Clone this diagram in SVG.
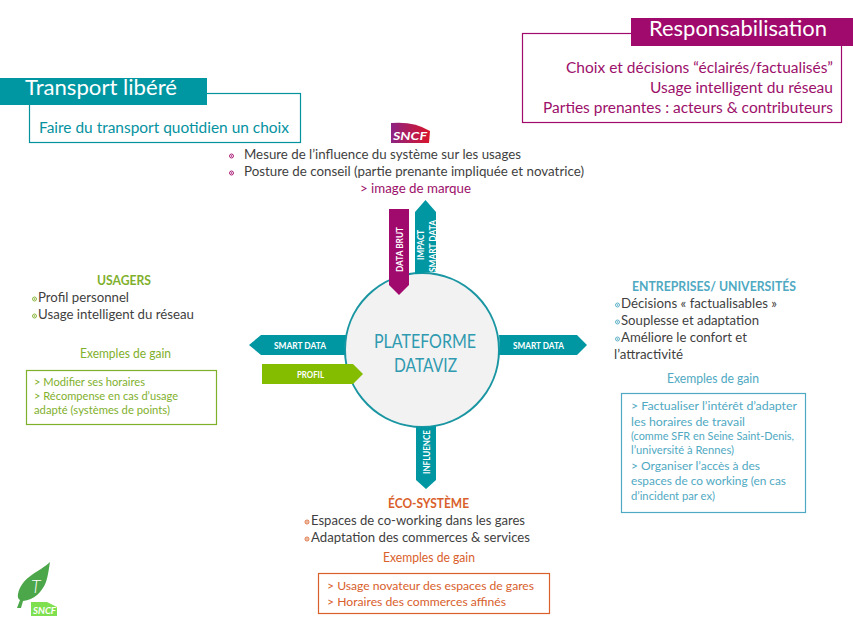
<svg xmlns="http://www.w3.org/2000/svg" width="853" height="628" viewBox="0 0 853 628">
<style>
text{font-family:"Lato","Open Sans","Liberation Sans",sans-serif}
.dark{fill:#3f3f3f;font-size:14px}
.teal{fill:#05929f}
.mag{fill:#9c0f6a}
.grn{fill:#7fb02c}
.blu{fill:#4fa9c2}
.org{fill:#d9602b}
.box{fill:#fff;stroke-width:1.2}
.tag{fill:#fff;font-size:9.500px;font-weight:700}
.ex{font-size:12px}
.sm{font-size:11.500px}
.gain{font-size:12.500px}
.head{font-size:13.500px;font-weight:700}
.side{font-size:15.500px}
</style>
<defs>
<g id="bullet"><circle r="2" fill="none" stroke="currentColor" stroke-width="0.9"/><circle r="0.8" fill="currentColor"/></g>
<linearGradient id="sncfFill" x1="0" x2="1" y1="0" y2="0"><stop offset="0" stop-color="#8d2382"/><stop offset="1" stop-color="#d8142a"/></linearGradient>
</defs>
<rect width="853" height="628" fill="#fff"/>

<g id="responsabilisation">
<rect class="box" x="522.500" y="33.500" width="319" height="89" stroke="#a00a6c"/>
<rect x="631" y="18" width="222" height="28" fill="#a00a6c"/>
<text x="649" y="36" fill="#fff" font-size="21.500" textLength="178" lengthAdjust="spacingAndGlyphs">Responsabilisation</text>
<text class="mag side" x="566" y="73" textLength="267" lengthAdjust="spacingAndGlyphs">Choix et décisions “éclairés/factualisés”</text>
<text class="mag side" x="650" y="93" textLength="183" lengthAdjust="spacingAndGlyphs">Usage intelligent du réseau</text>
<text class="mag side" x="543" y="113" textLength="290" lengthAdjust="spacingAndGlyphs">Parties prenantes : acteurs &amp; contributeurs</text>
</g>

<g id="transport">
<rect class="box" x="29.500" y="93.500" width="271" height="49" stroke="#05929f"/>
<rect x="0" y="78" width="207" height="27" fill="#0097a3"/>
<text x="25" y="95" fill="#fff" font-size="22" textLength="152" lengthAdjust="spacingAndGlyphs">Transport libéré</text>
<text class="teal side" x="39" y="133" textLength="250" lengthAdjust="spacingAndGlyphs">Faire du transport quotidien un choix</text>
</g>

<g id="sncf">
<path d="M391 123Q414 121 430 131L429 143H391Z" fill="url(#sncfFill)"/>
<text x="393" y="140" fill="#fff" font-size="12" font-weight="700" font-style="italic" textLength="34" lengthAdjust="spacingAndGlyphs">SNCF</text>
</g>
<g id="sncf-points" color="#a00a6c">
<use href="#bullet" x="231.500" y="156"/>
<use href="#bullet" x="231.500" y="173"/>
<text class="dark" x="244" y="159" textLength="277" lengthAdjust="spacingAndGlyphs">Mesure de l’influence du système sur les usages</text>
<text class="dark" x="244" y="176" textLength="340" lengthAdjust="spacingAndGlyphs">Posture de conseil (partie prenante impliquée et novatrice)</text>
<text class="mag" x="360" y="193" font-size="14" textLength="111" lengthAdjust="spacingAndGlyphs">&gt; image de marque</text>
</g>

<g id="plateforme">
<circle cx="422" cy="350" r="77" fill="#f2f2f2" stroke="#1a96a3" stroke-width="2"/>
<text x="374" y="348" fill="#2f9ab0" font-size="18.500" textLength="102" lengthAdjust="spacingAndGlyphs">PLATEFORME</text>
<text x="394" y="372" fill="#2f9ab0" font-size="18.500" textLength="63" lengthAdjust="spacingAndGlyphs">DATAVIZ</text>
</g>

<g id="connectors">
<path d="M415 274V212L425.500 200L436 212V272Q426 272 415 274Z" fill="#0097a3"/>
<path d="M389 209H409V285L399 295L389 285Z" fill="#a00a6c"/>
<path d="M346 335H261L249 345L261 355H345Q344 345 346 335Z" fill="#0097a3"/>
<path d="M499 335H577L587 345L577 355H499Q500 345 499 335Z" fill="#0097a3"/>
<path d="M262 364H353L363 374L353 384H262Z" fill="#84bc00"/>
<path d="M416 427Q426 428 436 426V480L426 489L416 480Z" fill="#0097a3"/>
<text class="tag" transform="translate(403 272) rotate(-90)" textLength="45" lengthAdjust="spacingAndGlyphs">DATA BRUT</text>
<text class="tag" transform="translate(424 260) rotate(-90)" textLength="30" lengthAdjust="spacingAndGlyphs">IMPACT</text>
<text class="tag" transform="translate(436 272) rotate(-90)" textLength="52" lengthAdjust="spacingAndGlyphs">SMART DATA</text>
<text class="tag" x="274" y="349" textLength="52" lengthAdjust="spacingAndGlyphs">SMART DATA</text>
<text class="tag" x="513" y="349" textLength="51" lengthAdjust="spacingAndGlyphs">SMART DATA</text>
<text class="tag" x="297" y="377.500" textLength="27" lengthAdjust="spacingAndGlyphs">PROFIL</text>
<text class="tag" transform="translate(430 474) rotate(-90)" textLength="44" lengthAdjust="spacingAndGlyphs">INFLUENCE</text>
</g>

<g id="usagers" color="#7fb02c">
<text class="grn head" x="97" y="285" textLength="54" lengthAdjust="spacingAndGlyphs">USAGERS</text>
<use href="#bullet" x="34.500" y="299"/>
<use href="#bullet" x="34.500" y="316"/>
<text class="dark" x="38" y="302" textLength="91" lengthAdjust="spacingAndGlyphs">Profil personnel</text>
<text class="dark" x="38" y="319" textLength="156" lengthAdjust="spacingAndGlyphs">Usage intelligent du réseau</text>
<text class="grn gain" x="80" y="358" textLength="91" lengthAdjust="spacingAndGlyphs">Exemples de gain</text>
<rect class="box" x="26.500" y="370.500" width="190" height="54" stroke="#7fb02c"/>
<text class="grn ex" x="34" y="386" textLength="111" lengthAdjust="spacingAndGlyphs">&gt; Modifier ses horaires</text>
<text class="grn ex" x="34" y="400" textLength="144" lengthAdjust="spacingAndGlyphs">&gt; Récompense en cas d’usage</text>
<text class="grn ex" x="34" y="414" textLength="136" lengthAdjust="spacingAndGlyphs">adapté (systèmes de points)</text>
</g>

<g id="entreprises" color="#4fa9c2">
<text class="blu head" x="632" y="291" textLength="164" lengthAdjust="spacingAndGlyphs">ENTREPRISES/ UNIVERSITÉS</text>
<use href="#bullet" x="617.500" y="305"/>
<use href="#bullet" x="617.500" y="322"/>
<use href="#bullet" x="617.500" y="339"/>
<text class="dark" x="621" y="308" textLength="156" lengthAdjust="spacingAndGlyphs">Décisions « factualisables »</text>
<text class="dark" x="621" y="325" textLength="138" lengthAdjust="spacingAndGlyphs">Souplesse et adaptation</text>
<text class="dark" x="621" y="342" textLength="126" lengthAdjust="spacingAndGlyphs">Améliore le confort et</text>
<text class="dark" x="614" y="359" textLength="69" lengthAdjust="spacingAndGlyphs">l’attractivité</text>
<text class="blu gain" x="667" y="383" textLength="92" lengthAdjust="spacingAndGlyphs">Exemples de gain</text>
<rect class="box" x="621.500" y="393.500" width="184" height="119" stroke="#4fa9c2"/>
<text class="blu ex" x="631" y="410" textLength="166" lengthAdjust="spacingAndGlyphs">&gt; Factualiser l’intérêt d’adapter</text>
<text class="blu ex" x="631" y="426" textLength="114" lengthAdjust="spacingAndGlyphs">les horaires de travail</text>
<text class="blu sm" x="631" y="440" textLength="163" lengthAdjust="spacingAndGlyphs">(comme SFR en Seine Saint-Denis,</text>
<text class="blu sm" x="631" y="454" textLength="103" lengthAdjust="spacingAndGlyphs">l’université à Rennes)</text>
<text class="blu ex" x="631" y="470" textLength="129" lengthAdjust="spacingAndGlyphs">&gt; Organiser l’accès à des</text>
<text class="blu ex" x="631" y="485" textLength="155" lengthAdjust="spacingAndGlyphs">espaces de co working (en cas</text>
<text class="blu sm" x="631" y="500" textLength="84" lengthAdjust="spacingAndGlyphs">d’incident par ex)</text>
</g>

<g id="ecosysteme" color="#d9602b">
<text class="org head" x="388" y="508" textLength="81" lengthAdjust="spacingAndGlyphs">ÉCO-SYSTÈME</text>
<use href="#bullet" x="307" y="522"/>
<use href="#bullet" x="307" y="539"/>
<text class="dark" x="311" y="525" textLength="214" lengthAdjust="spacingAndGlyphs">Espaces de co-working dans les gares</text>
<text class="dark" x="311" y="542" textLength="219" lengthAdjust="spacingAndGlyphs">Adaptation des commerces &amp; services</text>
<text class="org gain" x="383" y="562" textLength="92" lengthAdjust="spacingAndGlyphs">Exemples de gain</text>
<rect class="box" x="318.500" y="573.500" width="231" height="40" stroke="#d9602b"/>
<text class="org ex" x="327" y="590" textLength="207" lengthAdjust="spacingAndGlyphs">&gt; Usage novateur des espaces de gares</text>
<text class="org ex" x="327" y="606" textLength="179" lengthAdjust="spacingAndGlyphs">&gt; Horaires des commerces affinés</text>
</g>

<g id="feuille">
<path d="M50 562C40 572 22 576 18 594C17.500 597 18 599 20 600L17 608H21L23 601C34 600 42 592 46 582C48 576 49 568 50 562Z" fill="#4ca64a"/>
<text x="31" y="593" fill="#fff" font-size="18" font-weight="300" font-style="italic">T</text>
<path d="M31 602H47L57 607V616H31Z" fill="#7ee04f"/>
<text x="33" y="614" fill="#fff" font-size="9" font-weight="700" font-style="italic" textLength="23" lengthAdjust="spacingAndGlyphs">SNCF</text>
</g>
</svg>
